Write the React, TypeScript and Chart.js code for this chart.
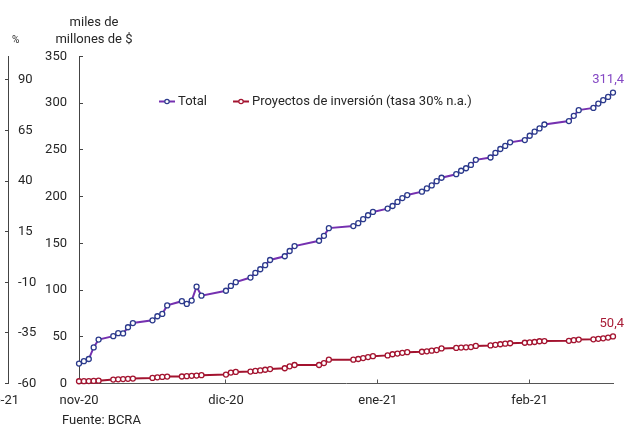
import React, { useEffect, useRef } from 'react';
import { Chart, registerables } from 'chart.js';

Chart.register(...registerables);

// Business days (Argentina), 9-nov-2020 .. 26-feb-2021
const dates: string[] = [
  '2020-11-09', '2020-11-10', '2020-11-11', '2020-11-12', '2020-11-13',
  '2020-11-16', '2020-11-17', '2020-11-18', '2020-11-19', '2020-11-20',
  '2020-11-24', '2020-11-25', '2020-11-26', '2020-11-27',
  '2020-11-30', '2020-12-01', '2020-12-02', '2020-12-03', '2020-12-04',
  '2020-12-09', '2020-12-10', '2020-12-11',
  '2020-12-14', '2020-12-15', '2020-12-16', '2020-12-17', '2020-12-18',
  '2020-12-21', '2020-12-22', '2020-12-23',
  '2020-12-28', '2020-12-29', '2020-12-30',
  '2021-01-04', '2021-01-05', '2021-01-06', '2021-01-07', '2021-01-08',
  '2021-01-11', '2021-01-12', '2021-01-13', '2021-01-14', '2021-01-15',
  '2021-01-18', '2021-01-19', '2021-01-20', '2021-01-21', '2021-01-22',
  '2021-01-25', '2021-01-26', '2021-01-27', '2021-01-28', '2021-01-29',
  '2021-02-01', '2021-02-02', '2021-02-03', '2021-02-04', '2021-02-05',
  '2021-02-08', '2021-02-09', '2021-02-10', '2021-02-11', '2021-02-12',
  '2021-02-17', '2021-02-18', '2021-02-19',
  '2021-02-22', '2021-02-23', '2021-02-24', '2021-02-25', '2021-02-26',
];

const total: number[] = [
  21.3, 23.9, 26.2, 38.6, 47.0,
  50.7, 53.9, 53.6, 60.2, 64.7,
  67.6, 72.0, 74.5, 83.6,
  88.1, 85.2, 88.8, 103.6, 94.0,
  99.3, 104.4, 108.5,
  113.4, 118.4, 122.3, 126.6, 132.2,
  136.2, 141.8, 147.1,
  152.8, 158.1, 166.3,
  168.5, 171.6, 175.9, 180.1, 183.6,
  187.2, 190.0, 194.3, 198.5, 201.7,
  205.3, 208.8, 212.0, 216.6, 220.2,
  224.0, 227.7, 230.4, 234.0, 239.4,
  241.9, 246.8, 251.0, 254.3, 258.1,
  260.6, 265.2, 269.5, 273.0, 277.2,
  280.9, 286.5, 292.6,
  295.0, 299.6, 303.2, 306.7, 311.4,
];

const proyectos: number[] = [
  2.4, 2.5, 2.6, 2.8, 3.0,
  4.2, 4.5, 4.7, 5.0, 5.3,
  6.0, 6.6, 7.0, 7.4,
  7.5, 7.8, 8.2, 8.5, 8.9,
  9.6, 11.7, 12.4,
  12.8, 13.5, 14.0, 14.7, 15.4,
  16.3, 18.4, 19.8,
  19.8, 21.9, 25.5,
  25.5, 26.2, 27.2, 28.3, 29.2,
  30.1, 31.3, 32.0, 32.8, 33.5,
  34.0, 34.4, 35.1, 35.8, 37.5,
  38.1, 38.4, 38.7, 39.0, 40.2,
  40.7, 41.4, 42.0, 42.6, 43.1,
  43.6, 44.0, 44.4, 45.2, 45.4,
  45.7, 46.4, 47.0,
  47.3, 47.8, 48.4, 49.2, 50.4,
];

const seriesNames = ['Total', 'Proyectos de inversión (tasa 30% n.a.)'];
const mainTicks = [0, 50, 100, 150, 200, 250, 300, 350];
const leftTicks = [-60, -35, -10, 15, 40, 65, 90];
const xTickDates = ['2020-11-09', '2020-12-09', '2021-01-09', '2021-02-09'];
const xTickLabels = ['nov-20', 'dic-20', 'ene-21', 'feb-21'];

const DAY = 86400000;
const t0 = Date.parse(dates[0]);
const dayOf = (d: string) => Math.round((Date.parse(d) - t0) / DAY);

const FONT = 'Roboto, "Noto Sans", sans-serif';
const TEXT = '#262626';
const PURPLE = '#7530B0';
const NAVY = '#2B3A8C';
const CRIMSON = '#A3132F';

const legendPlugin = {
  id: 'lineLegend',
  afterDatasetsDraw(chart: any) {
    const ctx = chart.ctx;
    const a = chart.chartArea;
    let x = a.left + 80;
    const y = a.top + 45;
    ctx.save();
    ctx.font = `13px ${FONT}`;
    ctx.textBaseline = 'middle';
    ctx.textAlign = 'left';
    chart.data.datasets.forEach((ds: any) => {
      ctx.strokeStyle = ds.borderColor;
      ctx.lineWidth = 2;
      ctx.beginPath();
      ctx.moveTo(x, y);
      ctx.lineTo(x + 16, y);
      ctx.stroke();
      ctx.beginPath();
      ctx.arc(x + 8, y, 2.2, 0, Math.PI * 2);
      ctx.fillStyle = '#fff';
      ctx.fill();
      ctx.lineWidth = 1.2;
      ctx.strokeStyle = ds.pointBorderColor;
      ctx.stroke();
      ctx.fillStyle = TEXT;
      ctx.fillText(ds.label, x + 19, y);
      x += 19 + ctx.measureText(ds.label).width + 26;
    });
    ctx.restore();
  },
};

const endLabelPlugin = {
  id: 'endLabels',
  afterDatasetsDraw(chart: any) {
    const ctx = chart.ctx;
    ctx.save();
    ctx.font = `13px ${FONT}`;
    ctx.textBaseline = 'middle';
    ctx.textAlign = 'center';
    chart.data.datasets.forEach((ds: any, i: number) => {
      const meta = chart.getDatasetMeta(i);
      const pt = meta.data[meta.data.length - 1];
      const v = ds.data[ds.data.length - 1].y;
      const txt = v.toFixed(1).replace('.', ',');
      const w = ctx.measureText(txt).width;
      const cx = Math.min(pt.x, chart.width - 1 - w / 2);
      ctx.fillStyle = ds.labelColor;
      ctx.fillText(txt, cx, pt.y - 13);
    });
    ctx.restore();
  },
};

export default function App() {
  const ref = useRef<HTMLCanvasElement>(null);

  useEffect(() => {
    if (!ref.current) return;
    const chart = new Chart(ref.current, {
      type: 'line',
      data: {
        datasets: [
          {
            label: seriesNames[0],
            data: dates.map((d, i) => ({ x: dayOf(d), y: total[i] })),
            borderColor: PURPLE,
            borderWidth: 2,
            pointRadius: 2.5,
            pointBorderWidth: 1.3,
            pointBorderColor: NAVY,
            pointBackgroundColor: '#fff',
            tension: 0,
            clip: false,
            yAxisID: 'y',
            labelColor: '#8447C4',
          } as any,
          {
            label: seriesNames[1],
            data: dates.map((d, i) => ({ x: dayOf(d), y: proyectos[i] })),
            borderColor: CRIMSON,
            borderWidth: 2,
            pointRadius: 2.5,
            pointBorderWidth: 1.3,
            pointBorderColor: CRIMSON,
            pointBackgroundColor: '#fff',
            tension: 0,
            clip: false,
            yAxisID: 'y',
            labelColor: '#A81C36',
          } as any,
        ],
      },
      options: {
        animation: false,
        responsive: false,
        maintainAspectRatio: false,
        layout: { padding: { left: 0, right: 12, top: 56.5, bottom: 0 } },
        plugins: { legend: { display: false }, tooltip: { enabled: false } },
        scales: {
          x: {
            type: 'linear',
            min: 0,
            max: dayOf(dates[dates.length - 1]),
            afterBuildTicks: (s: any) => {
              s.ticks = xTickDates.map((d) => ({ value: dayOf(d) }));
            },
            afterFit: (s: any) => {
              s.height = 43.5;
            },
            ticks: {
              autoSkip: false,
              maxRotation: 0,
              padding: 13,
              color: TEXT,
              font: { family: FONT, size: 13 },
              callback: (v: any) => {
                const idx = xTickDates.findIndex((d) => dayOf(d) === v);
                return idx >= 0 ? xTickLabels[idx] : '';
              },
            },
            grid: { drawOnChartArea: false, tickLength: -4, color: '#555' },
            border: { color: '#555', width: 1 },
          },
          y: {
            position: 'left',
            weight: 0,
            min: 0,
            max: 350,
            afterBuildTicks: (s: any) => {
              s.ticks = mainTicks.map((v) => ({ value: v }));
            },
            afterFit: (s: any) => {
              s.width = 71;
            },
            ticks: {
              padding: 16,
              color: TEXT,
              font: { family: FONT, size: 13 },
            },
            grid: { drawOnChartArea: false, tickLength: -4, color: '#444' },
            border: { color: '#444', width: 1 },
          },
          yL: {
            position: 'left',
            weight: 1,
            min: -60,
            max: 101.6,
            afterBuildTicks: (s: any) => {
              s.ticks = leftTicks.map((v) => ({ value: v }));
            },
            afterFit: (s: any) => {
              s.width = 8;
            },
            ticks: {
              mirror: true,
              padding: 10,
              color: TEXT,
              font: { family: FONT, size: 13 },
            },
            grid: { drawOnChartArea: false, tickLength: 3, color: '#444' },
            border: { color: '#444', width: 1 },
          },
        },
      } as any,
      plugins: [legendPlugin, endLabelPlugin],
    });
    return () => chart.destroy();
  }, []);

  const txt: React.CSSProperties = {
    position: 'absolute',
    fontFamily: FONT,
    color: TEXT,
    whiteSpace: 'nowrap',
  };

  return (
    <div style={{ position: 'absolute', left: 0, top: 0, width: 625, height: 427, overflow: 'hidden', background: '#fff' }}>
      <canvas ref={ref} width={625} height={427} style={{ display: 'block', width: 625, height: 427 }} />
      <div style={{ ...txt, left: 44, top: 13, width: 100, textAlign: 'center', fontSize: 13, lineHeight: '17px' }}>
        miles de<br />millones de $
      </div>
      <div style={{ ...txt, left: 12, top: 34, fontSize: 10 }}>%</div>
      <div style={{ ...txt, left: -41, top: 392, width: 60, textAlign: 'right', fontSize: 13 }}>feb-21</div>
      <div style={{ ...txt, left: 62, top: 412, fontSize: 13 }}>Fuente: BCRA</div>
    </div>
  );
}
